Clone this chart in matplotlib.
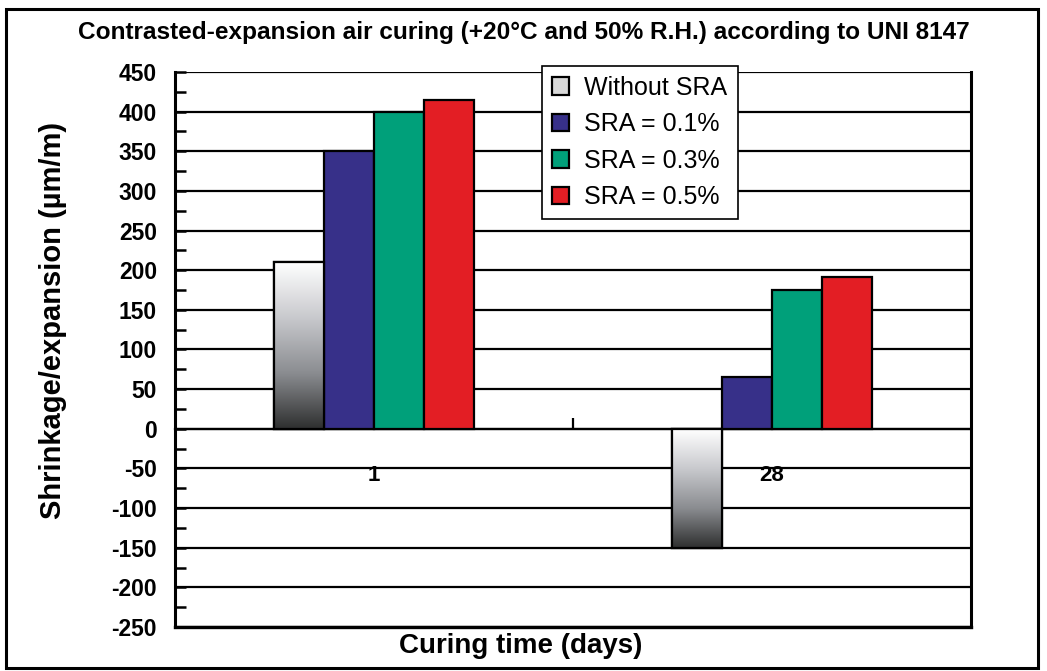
import matplotlib
matplotlib.use('Agg')
import matplotlib.pyplot as plt
import numpy as np
from matplotlib.patches import Rectangle
from matplotlib.ticker import MultipleLocator, FixedLocator
from matplotlib.colors import LinearSegmentedColormap

plt.rcParams['font.family'] = ['Liberation Sans', 'DejaVu Sans']
plt.rcParams['axes.unicode_minus'] = False

days = ['1', '28']
series = ['Without SRA', 'SRA = 0.1%', 'SRA = 0.3%', 'SRA = 0.5%']
without_sra = [210, -150]
sra_01 = [350, 65]
sra_03 = [400, 175]
sra_05 = [415, 192]
colors = ['white', '#373089', '#00a07a', '#e31e24']

values = [without_sra, sra_01, sra_03, sra_05]

fig = plt.figure(figsize=(10.47, 6.71), dpi=100)
ax = fig.add_axes([0.1671, 0.0656, 0.7603, 0.8271])

centers = np.array([0.25, 0.75])
w = 0.0628
offsets = (np.arange(4) - 1.5) * w

containers = []
for i, (vals, c, lab) in enumerate(zip(values, colors, series)):
    bc = ax.bar(centers + offsets[i], vals, width=w, color=c, edgecolor='black',
                linewidth=1.6, label=lab, zorder=3)
    containers.append(bc)

# gradient fill for the "Without SRA" bars
grad = np.linspace(1, 0, 256).reshape(-1, 1)
cmap = LinearSegmentedColormap.from_list('g', ['#2e2f2f', '#8a8c90', '#c8c9cd', '#ffffff'])
for p in containers[0].patches:
    x0, y0 = p.get_x(), p.get_y()
    h = p.get_height()
    top, bot = max(y0, y0 + h), min(y0, y0 + h)
    im = ax.imshow(grad, cmap=cmap, aspect='auto', extent=[x0, x0 + w, bot, top],
                   zorder=3.1, vmin=0, vmax=1)
    im.set_clip_path(p)
    ax.add_patch(Rectangle((x0, bot), w, top - bot, fill=False, edgecolor='black',
                           linewidth=1.6, zorder=3.2))

ax.set_xlim(0, 1)
ax.set_ylim(-250, 450)
ax.yaxis.set_major_locator(MultipleLocator(50))
ax.yaxis.set_minor_locator(MultipleLocator(25))
ax.grid(axis='y', which='major', color='black', linewidth=1.6, zorder=1)
ax.axhline(-250, color='black', linewidth=2.4, zorder=2, clip_on=False)
ax.tick_params(axis='y', which='both', direction='in', length=8, width=1.8,
               labelsize=16.5, pad=13)
for t in ax.get_yticklabels():
    t.set_fontweight('bold')

ax.spines['bottom'].set_position(('data', 0))
ax.spines['top'].set_visible(False)
for s in ['left', 'right', 'bottom']:
    ax.spines[s].set_linewidth(2.2)
ax.spines['bottom'].set_linewidth(1.6)

ax.xaxis.set_major_locator(FixedLocator([0.5]))
ax.xaxis.set_major_formatter(plt.NullFormatter())
ax.xaxis.set_minor_locator(FixedLocator(list(centers)))
ax.set_xticklabels(days, minor=True, fontsize=16, fontweight='bold')
ax.tick_params(axis='x', which='major', direction='in', length=8, width=1.6)
ax.tick_params(axis='x', which='minor', length=0, pad=26)

fig.text(53 / 1047, 1 - 320 / 671, 'Shrinkage/expansion (µm/m)', rotation=90,
         ha='center', va='center', fontsize=21, fontweight='bold')
fig.text(521 / 1047, 1 - 646 / 671, 'Curing time (days)',
         ha='center', va='center', fontsize=20, fontweight='bold')

fig.text(0.5, 1 - 33 / 671, 'Contrasted-expansion air curing (+20°C and 50% R.H.) according to UNI 8147',
         ha='center', va='center', fontsize=17.6, fontweight='bold')

leg = ax.legend(loc='upper left', bbox_to_anchor=(0.461, 1.011), fontsize=18,
                frameon=True, fancybox=False, edgecolor='black', framealpha=1,
                handlelength=0.7, handleheight=0.7, handletextpad=0.6,
                labelspacing=0.5, borderpad=0.4, borderaxespad=0)
leg.get_frame().set_linewidth(1.2)
leg.set_zorder(5)
leg.legend_handles[0].set_facecolor('#d9d9d9')
# nudge the legend entries right a little inside the frame
leg._legend_box.align = 'left'
leg.get_frame().set_width(leg.get_frame().get_width())

fig.patches.append(Rectangle((0.006, 0.004), 0.985, 0.983, transform=fig.transFigure,
                             fill=False, edgecolor='black', linewidth=2.2))

fig.savefig('out.png', dpi=100)
